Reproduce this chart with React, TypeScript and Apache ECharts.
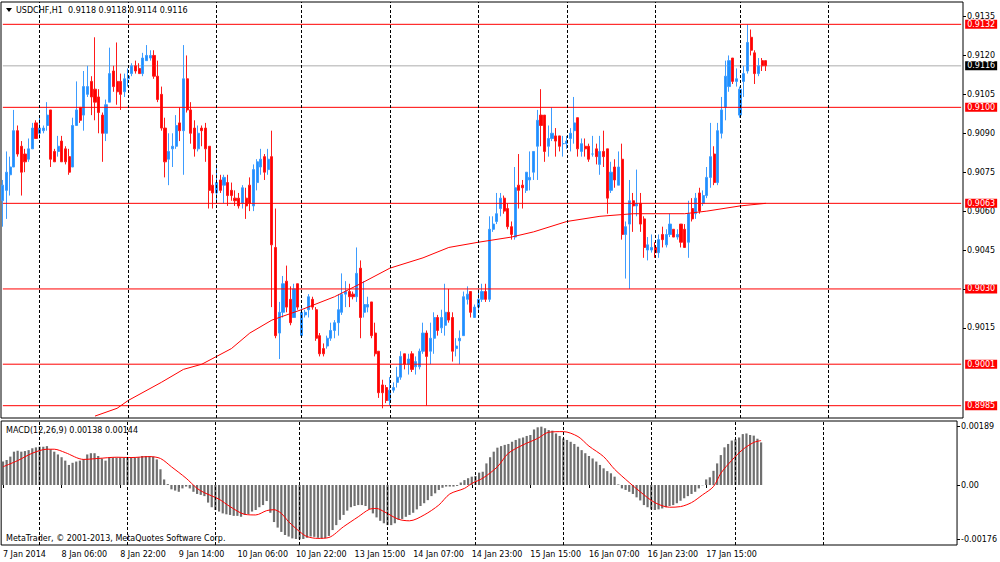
import React, { useEffect, useRef } from "react";
import * as echarts from "echarts";

const symbolName = "USDCHF,H1";
const macdName = "MACD(12,26,9)";
const copyright = "MetaTrader, © 2001-2013, MetaQuotes Software Corp.";

const tickLabels = [
  "7 Jan 2014", "8 Jan 06:00", "8 Jan 22:00", "9 Jan 14:00", "10 Jan 06:00", "10 Jan 22:00",
  "13 Jan 15:00", "14 Jan 07:00", "14 Jan 23:00", "15 Jan 15:00", "16 Jan 07:00", "16 Jan 23:00", "17 Jan 15:00",
];
const BARS_PER_TICK = 16;
const SLOT_COUNT = 261;
const daySeparators = [10, 34, 58, 81, 105, 129, 153, 177, 200, 224];

const opens = [
  0.9064, 0.9068, 0.9074, 0.9077, 0.9091, 0.9085, 0.9082, 0.9080, 0.9084, 0.9094,
  0.9090, 0.9091, 0.9093, 0.9099, 0.9083, 0.9083, 0.9087, 0.9084, 0.9081, 0.9077,
  0.9093, 0.9100, 0.9097, 0.9105, 0.9110, 0.9107, 0.9104, 0.9097, 0.9090, 0.9102,
  0.9114, 0.9110, 0.9110, 0.9106, 0.9111, 0.9113, 0.9116, 0.9115, 0.9113, 0.9118,
  0.9119, 0.9120, 0.9112, 0.9105, 0.9092, 0.9080, 0.9084, 0.9085, 0.9094, 0.9091,
  0.9111, 0.9099, 0.9092, 0.9084, 0.9092, 0.9092, 0.9085, 0.9070, 0.9067, 0.9072,
  0.9070, 0.9071, 0.9068, 0.9065, 0.9065, 0.9063, 0.9065, 0.9070, 0.9062, 0.9071,
  0.9077, 0.9081, 0.9076, 0.9081, 0.9046, 0.9013, 0.9021, 0.9033, 0.9026, 0.9019,
  0.9032, 0.9012, 0.9020, 0.9022, 0.9026, 0.9022, 0.9012, 0.9007, 0.9008, 0.9011,
  0.9014, 0.9017, 0.9021, 0.9028, 0.9029, 0.9028, 0.9027, 0.9038, 0.9021, 0.9023,
  0.9025, 0.9013, 0.9006, 0.8993, 0.8992, 0.8987, 0.8991, 0.8994, 0.8996, 0.9005,
  0.9001, 0.9005, 0.9000, 0.9000, 0.9006, 0.9013, 0.9006, 0.9011, 0.9019, 0.9015,
  0.9016, 0.9021, 0.9019, 0.9007, 0.9010, 0.9012, 0.9026, 0.9029, 0.9019, 0.9023,
  0.9026, 0.9029, 0.9026, 0.9053, 0.9056, 0.9061, 0.9065, 0.9061, 0.9054, 0.9050,
  0.9070, 0.9070, 0.9068, 0.9072, 0.9075, 0.9085, 0.9097, 0.9097, 0.9085, 0.9088,
  0.9089, 0.9089, 0.9086, 0.9086, 0.9088, 0.9091, 0.9096, 0.9083, 0.9085, 0.9085,
  0.9082, 0.9084, 0.9078, 0.9083, 0.9084, 0.9068, 0.9077, 0.9070, 0.9080, 0.9051,
  0.9055, 0.9064, 0.9062, 0.9063, 0.9057, 0.9045, 0.9045, 0.9046, 0.9044, 0.9051,
  0.9047, 0.9051, 0.9053, 0.9050, 0.9055, 0.9053, 0.9048, 0.9061, 0.9059, 0.9067,
  0.9063, 0.9066, 0.9073, 0.9082, 0.9071, 0.9090, 0.9100, 0.9108, 0.9119, 0.9110,
  0.9097, 0.9110, 0.9114, 0.9127, 0.9121, 0.9113, 0.9118, 0.9118,
];

const highs = [
  0.9072, 0.9083, 0.9081, 0.9099, 0.9093, 0.9087, 0.9084, 0.9088, 0.9094, 0.9095,
  0.9097, 0.9093, 0.9102, 0.9099, 0.9084, 0.9089, 0.9089, 0.9085, 0.9084, 0.9096,
  0.9110, 0.9100, 0.9114, 0.9116, 0.9112, 0.9127, 0.9107, 0.9098, 0.9103, 0.9123,
  0.9116, 0.9125, 0.9113, 0.9113, 0.9115, 0.9117, 0.9118, 0.9117, 0.9121, 0.9124,
  0.9122, 0.9122, 0.9118, 0.9108, 0.9096, 0.9090, 0.9090, 0.9097, 0.9100, 0.9124,
  0.9120, 0.9102, 0.9095, 0.9093, 0.9093, 0.9094, 0.9085, 0.9074, 0.9078, 0.9074,
  0.9074, 0.9074, 0.9071, 0.9068, 0.9067, 0.9070, 0.9069, 0.9073, 0.9078, 0.9080,
  0.9084, 0.9082, 0.9084, 0.9091, 0.9061, 0.9025, 0.9035, 0.9039, 0.9031, 0.9032,
  0.9032, 0.9023, 0.9022, 0.9028, 0.9027, 0.9023, 0.9013, 0.9009, 0.9012, 0.9017,
  0.9018, 0.9028, 0.9036, 0.9033, 0.9032, 0.9029, 0.9046, 0.9041, 0.9033, 0.9027,
  0.9025, 0.9017, 0.9006, 0.8995, 0.8993, 0.8996, 0.8994, 0.9000, 0.9006, 0.9005,
  0.9005, 0.9006, 0.9004, 0.9007, 0.9017, 0.9014, 0.9017, 0.9021, 0.9020, 0.9022,
  0.9032, 0.9030, 0.9021, 0.9011, 0.9014, 0.9029, 0.9031, 0.9029, 0.9024, 0.9030,
  0.9032, 0.9032, 0.9058, 0.9058, 0.9067, 0.9067, 0.9066, 0.9063, 0.9056, 0.9077,
  0.9082, 0.9072, 0.9075, 0.9083, 0.9083, 0.9099, 0.9107, 0.9097, 0.9093, 0.9100,
  0.9092, 0.9089, 0.9089, 0.9089, 0.9092, 0.9104, 0.9096, 0.9088, 0.9088, 0.9086,
  0.9089, 0.9086, 0.9089, 0.9091, 0.9084, 0.9079, 0.9080, 0.9083, 0.9086, 0.9056,
  0.9072, 0.9067, 0.9076, 0.9067, 0.9058, 0.9050, 0.9051, 0.9048, 0.9051, 0.9054,
  0.9053, 0.9059, 0.9053, 0.9053, 0.9055, 0.9055, 0.9064, 0.9065, 0.9067, 0.9069,
  0.9068, 0.9077, 0.9094, 0.9085, 0.9094, 0.9104, 0.9118, 0.9120, 0.9119, 0.9115,
  0.9108, 0.9116, 0.9132, 0.9130, 0.9122, 0.9119, 0.9119, 0.9118,
];

const lows = [
  0.9054, 0.9057, 0.9066, 0.9077, 0.9081, 0.9066, 0.9075, 0.9079, 0.9084, 0.9088,
  0.9088, 0.9090, 0.9091, 0.9077, 0.9079, 0.9081, 0.9079, 0.9078, 0.9074, 0.9077,
  0.9093, 0.9094, 0.9091, 0.9104, 0.9097, 0.9095, 0.9090, 0.9079, 0.9087, 0.9102,
  0.9106, 0.9101, 0.9099, 0.9104, 0.9108, 0.9112, 0.9113, 0.9113, 0.9112, 0.9118,
  0.9118, 0.9111, 0.9102, 0.9091, 0.9073, 0.9070, 0.9077, 0.9084, 0.9087, 0.9074,
  0.9098, 0.9086, 0.9081, 0.9083, 0.9085, 0.9079, 0.9061, 0.9061, 0.9063, 0.9067,
  0.9063, 0.9062, 0.9064, 0.9062, 0.9061, 0.9061, 0.9057, 0.9060, 0.9060, 0.9068,
  0.9074, 0.9072, 0.9074, 0.9023, 0.9011, 0.9003, 0.9019, 0.9021, 0.9016, 0.9019,
  0.9022, 0.9012, 0.9019, 0.9019, 0.9022, 0.9010, 0.9004, 0.9004, 0.9007, 0.9010,
  0.9011, 0.9012, 0.9020, 0.9023, 0.9023, 0.9026, 0.9025, 0.9011, 0.9019, 0.9021,
  0.9011, 0.9004, 0.8988, 0.8984, 0.8986, 0.8985, 0.8990, 0.8992, 0.8995, 0.8999,
  0.8997, 0.8998, 0.8997, 0.8999, 0.9005, 0.8985, 0.9001, 0.9005, 0.9012, 0.9013,
  0.9012, 0.9017, 0.9002, 0.9004, 0.9001, 0.9012, 0.9024, 0.9019, 0.9019, 0.9021,
  0.9025, 0.9025, 0.9025, 0.9052, 0.9055, 0.9058, 0.9059, 0.9053, 0.9049, 0.9049,
  0.9061, 0.9061, 0.9067, 0.9068, 0.9072, 0.9072, 0.9085, 0.9079, 0.9081, 0.9087,
  0.9081, 0.9083, 0.9081, 0.9084, 0.9083, 0.9086, 0.9081, 0.9081, 0.9081, 0.9079,
  0.9081, 0.9078, 0.9074, 0.9077, 0.9059, 0.9067, 0.9069, 0.9070, 0.9049, 0.9034,
  0.9030, 0.9052, 0.9058, 0.9052, 0.9042, 0.9041, 0.9044, 0.9042, 0.9042, 0.9046,
  0.9046, 0.9050, 0.9050, 0.9049, 0.9046, 0.9046, 0.9042, 0.9056, 0.9057, 0.9059,
  0.9062, 0.9065, 0.9069, 0.9070, 0.9070, 0.9088, 0.9095, 0.9106, 0.9109, 0.9108,
  0.9096, 0.9104, 0.9113, 0.9120, 0.9109, 0.9112, 0.9114, 0.9114,
];

const closes = [
  0.9070, 0.9075, 0.9077, 0.9091, 0.9082, 0.9075, 0.9079, 0.9084, 0.9092, 0.9088,
  0.9092, 0.9092, 0.9097, 0.9080, 0.9079, 0.9085, 0.9079, 0.9079, 0.9075, 0.9093,
  0.9099, 0.9095, 0.9108, 0.9108, 0.9104, 0.9102, 0.9098, 0.9090, 0.9101, 0.9113,
  0.9108, 0.9106, 0.9105, 0.9111, 0.9112, 0.9116, 0.9114, 0.9113, 0.9119, 0.9120,
  0.9120, 0.9112, 0.9103, 0.9092, 0.9079, 0.9083, 0.9085, 0.9093, 0.9091, 0.9111,
  0.9099, 0.9090, 0.9084, 0.9090, 0.9091, 0.9084, 0.9068, 0.9067, 0.9071, 0.9068,
  0.9073, 0.9066, 0.9066, 0.9064, 0.9062, 0.9069, 0.9062, 0.9063, 0.9076, 0.9079,
  0.9080, 0.9075, 0.9080, 0.9047, 0.9012, 0.9021, 0.9032, 0.9023, 0.9017, 0.9030,
  0.9023, 0.9021, 0.9021, 0.9027, 0.9023, 0.9011, 0.9005, 0.9005, 0.9011, 0.9014,
  0.9017, 0.9022, 0.9028, 0.9029, 0.9027, 0.9027, 0.9036, 0.9019, 0.9024, 0.9024,
  0.9012, 0.9005, 0.8990, 0.8990, 0.8987, 0.8991, 0.8992, 0.8996, 0.9004, 0.9001,
  0.9003, 0.8999, 0.9002, 0.9006, 0.9013, 0.9004, 0.9011, 0.9019, 0.9014, 0.9019,
  0.9021, 0.9018, 0.9006, 0.9008, 0.9011, 0.9027, 0.9028, 0.9021, 0.9023, 0.9026,
  0.9029, 0.9026, 0.9053, 0.9055, 0.9059, 0.9065, 0.9060, 0.9054, 0.9051, 0.9069,
  0.9068, 0.9069, 0.9075, 0.9073, 0.9083, 0.9095, 0.9093, 0.9083, 0.9088, 0.9090,
  0.9087, 0.9085, 0.9086, 0.9087, 0.9090, 0.9094, 0.9084, 0.9086, 0.9084, 0.9080,
  0.9082, 0.9081, 0.9083, 0.9081, 0.9065, 0.9075, 0.9072, 0.9077, 0.9051, 0.9054,
  0.9064, 0.9062, 0.9063, 0.9055, 0.9046, 0.9047, 0.9046, 0.9044, 0.9049, 0.9049,
  0.9051, 0.9055, 0.9050, 0.9051, 0.9048, 0.9046, 0.9059, 0.9057, 0.9065, 0.9060,
  0.9066, 0.9073, 0.9081, 0.9071, 0.9091, 0.9099, 0.9112, 0.9118, 0.9110, 0.9111,
  0.9107, 0.9113, 0.9125, 0.9122, 0.9113, 0.9116, 0.9116, 0.9116,
];

// moving average line, read at points (bar index, price)
const maPoints = [
  [25, 0.8981], [31, 0.8984], [34, 0.8987], [43, 0.8994], [49, 0.8999], [54, 0.9001],
  [58, 0.9004], [62, 0.9007], [67, 0.9013], [73, 0.9018], [81, 0.9022], [90, 0.9027],
  [97, 0.9032], [105, 0.9038], [114, 0.9042], [121, 0.9046], [129, 0.9048], [138, 0.9050],
  [144, 0.9052], [153, 0.9056], [162, 0.9058], [171, 0.9059], [177, 0.9059], [185, 0.9059],
  [191, 0.9060], [200, 0.9062], [207, 0.9063],
];

const levelPrices = [0.9132, 0.9100, 0.9063, 0.9030, 0.9001, 0.8985];
const bidPrice = 0.9116;
const priceTicks = [0.9015, 0.9030, 0.9045, 0.9060, 0.9075, 0.9090, 0.9105, 0.9120, 0.9135];

const macdMain = [
  0.00076, 0.00081, 0.00092, 0.00108, 0.00111, 0.00108, 0.00110, 0.00113, 0.00119, 0.00122,
  0.00124, 0.00124, 0.00126, 0.00116, 0.00108, 0.00099, 0.00090, 0.00079, 0.00065, 0.00072,
  0.00076, 0.00079, 0.00084, 0.00099, 0.00103, 0.00103, 0.00094, 0.00086, 0.00079, 0.00089,
  0.00089, 0.00089, 0.00089, 0.00089, 0.00089, 0.00090, 0.00090, 0.00090, 0.00094, 0.00094,
  0.00094, 0.00092, 0.00083, 0.00051, 0.00018, 0.00003, -0.00014, -0.00018, -0.00022, -0.00011,
  -0.00005, -0.00011, -0.00022, -0.00029, -0.00032, -0.00036, -0.00057, -0.00072, -0.00081, -0.00086,
  -0.00092, -0.00095, -0.00097, -0.00100, -0.00100, -0.00103, -0.00097, -0.00094, -0.00086, -0.00081,
  -0.00072, -0.00065, -0.00052, -0.00090, -0.00120, -0.00138, -0.00152, -0.00162, -0.00167, -0.00173,
  -0.00175, -0.00176, -0.00175, -0.00171, -0.00167, -0.00168, -0.00171, -0.00173, -0.00172, -0.00165,
  -0.00146, -0.00130, -0.00113, -0.00097, -0.00083, -0.00072, -0.00068, -0.00065, -0.00065, -0.00068,
  -0.00079, -0.00092, -0.00105, -0.00116, -0.00124, -0.00130, -0.00130, -0.00124, -0.00113, -0.00110,
  -0.00103, -0.00097, -0.00090, -0.00079, -0.00068, -0.00059, -0.00049, -0.00036, -0.00027, -0.00016,
  -0.00009, -0.00005, -0.00005, -0.00005, -0.00003, 0.00008, 0.00016, 0.00022, 0.00027, 0.00029,
  0.00040, 0.00043, 0.00070, 0.00090, 0.00108, 0.00121, 0.00126, 0.00130, 0.00133, 0.00140,
  0.00146, 0.00151, 0.00154, 0.00159, 0.00162, 0.00180, 0.00187, 0.00189, 0.00184, 0.00178,
  0.00176, 0.00167, 0.00159, 0.00151, 0.00146, 0.00140, 0.00133, 0.00124, 0.00113, 0.00103,
  0.00094, 0.00086, 0.00076, 0.00065, 0.00054, 0.00045, 0.00038, 0.00027, 0.00002, -0.00011,
  -0.00016, -0.00022, -0.00029, -0.00040, -0.00050, -0.00065, -0.00072, -0.00079, -0.00081, -0.00079,
  -0.00076, -0.00072, -0.00068, -0.00065, -0.00059, -0.00051, -0.00043, -0.00036, -0.00029, -0.00022,
  -0.00011, -0.00001, 0.00018, 0.00025, 0.00046, 0.00070, 0.00097, 0.00122, 0.00133, 0.00144,
  0.00148, 0.00154, 0.00165, 0.00167, 0.00162, 0.00160, 0.00150, 0.00138,
];

// signal line, read at points (bar index, value)
const macdSignal = [
  [0, 0.00059], [4, 0.00079], [8, 0.00103], [12, 0.00116], [14, 0.00116], [17, 0.00105],
  [22, 0.00083], [26, 0.00086], [31, 0.00090], [35, 0.00089], [40, 0.00092], [43, 0.00086],
  [46, 0.00059], [50, 0.00022], [53, -0.00011], [55, -0.00025], [59, -0.00046], [62, -0.00070],
  [66, -0.00095], [69, -0.00097], [72, -0.00083], [74, -0.00080], [76, -0.00092], [78, -0.00119],
  [81, -0.00151], [83, -0.00167], [86, -0.00173], [89, -0.00170], [93, -0.00135], [97, -0.00103],
  [100, -0.00079], [102, -0.00076], [104, -0.00086], [108, -0.00111], [111, -0.00116], [115, -0.00097],
  [119, -0.00065], [122, -0.00029], [126, -0.00011], [128, 0.00005], [131, 0.00022], [135, 0.00059],
  [138, 0.00103], [142, 0.00130], [146, 0.00151], [149, 0.00171], [153, 0.00173], [157, 0.00157],
  [160, 0.00126], [164, 0.00092], [167, 0.00051], [171, 0.00008], [174, -0.00022], [178, -0.00057],
  [182, -0.00072], [185, -0.00070], [188, -0.00057], [191, -0.00032], [194, -0.00005], [196, 0.00038],
  [199, 0.00080], [202, 0.00115], [205, 0.00138], [207, 0.00144],
];
const macdTicks = [0.00189, 0, -0.00176];

// axis ranges matched to the reference's scale
const PRICE_MIN = 0.898026;
const PRICE_MAX = 0.91406;
const MACD_MIN = -0.001944;
const MACD_MAX = 0.002074;

const FONT = '"DejaVu Sans", Verdana, sans-serif';
const RED = "#ff0000";

export default function App() {
  const ref = useRef<HTMLDivElement>(null);

  useEffect(() => {
    if (!ref.current) return;
    const chart = echarts.init(ref.current, undefined, { renderer: "svg" });

    const categories = Array.from({ length: SLOT_COUNT }, (_, i) => String(i));
    const candles = opens.map((o, i) => [o, closes[i], lows[i], highs[i]]);
    const last = opens.length - 1;
    const showTick = (index: number) =>
      index % BARS_PER_TICK === 0 && index / BARS_PER_TICK < tickLabels.length;

    const separatorLines = daySeparators.map((i) => ({
      xAxis: i,
      lineStyle: { color: "#000", type: [3, 2], width: 1 },
      label: { show: false },
    }));

    // horizontal price lines drawn as flat line series across the whole axis, label at the right end
    const priceLine = (p: number, color: string, bg: string, width: number, z: number) => ({
      type: "line",
      name: "level " + p.toFixed(4),
      xAxisIndex: 0,
      yAxisIndex: 0,
      data: [[0, p], [SLOT_COUNT - 1, p]],
      z,
      silent: true,
      clip: false,
      symbol: "none",
      showSymbol: false,
      color,
      lineStyle: { color, width, type: "solid" },
      endLabel: {
        show: true,
        formatter: () => p.toFixed(4),
        color: "#fff",
        backgroundColor: bg,
        fontSize: 8,
        fontFamily: FONT,
        padding: [1, 2, 0, 2],
        lineHeight: 8,
        distance: 4,
      },
    });

    const titleText = `${symbolName}  ${opens[last].toFixed(4)} ${highs[last].toFixed(4)} ${lows[last].toFixed(4)} ${closes[last].toFixed(4)}`;
    const sigLast = macdSignal[macdSignal.length - 1][1];
    const macdText = `${macdName} ${macdMain[last].toFixed(5)} ${sigLast.toFixed(5)}`;

    const markBase = { silent: true, symbol: ["none", "none"], animation: false, precision: 5 };

    chart.setOption({
      animation: false,
      backgroundColor: "#fff",
      textStyle: { fontFamily: FONT },
      grid: [
        { left: 1, top: 2, width: 962, height: 416, show: true, borderColor: "#000", borderWidth: 1, backgroundColor: "#fff" },
        { left: 1, top: 421, width: 962, height: 124, show: true, borderColor: "#000", borderWidth: 1, backgroundColor: "#fff" },
      ],
      xAxis: [
        {
          type: "category", gridIndex: 0, data: categories, boundaryGap: true,
          axisLine: { show: false }, axisTick: { show: false }, axisLabel: { show: false }, splitLine: { show: false },
        },
        {
          type: "category", gridIndex: 1, data: categories, boundaryGap: true,
          axisLine: { show: false },
          axisTick: { show: true, interval: showTick, alignWithLabel: true, length: 3, lineStyle: { color: "#000" } },
          axisLabel: {
            show: true, interval: showTick, align: "left", fontSize: 8, fontFamily: FONT, color: "#000", margin: 5,
            formatter: (_v: string, index: number) => tickLabels[Math.round(index / BARS_PER_TICK)] ?? "",
          },
          splitLine: { show: false },
        },
      ],
      yAxis: [
        {
          type: "value", gridIndex: 0, position: "right", min: PRICE_MIN, max: PRICE_MAX,
          axisLine: { show: false }, splitLine: { show: false },
          axisTick: { show: true, length: 3, customValues: priceTicks, lineStyle: { color: "#000" } },
          axisLabel: {
            show: true, customValues: priceTicks, fontSize: 8, fontFamily: FONT, color: "#000", margin: 4,
            formatter: (v: number) => v.toFixed(4),
          },
        },
        {
          type: "value", gridIndex: 1, position: "right", min: MACD_MIN, max: MACD_MAX,
          axisLine: { show: false }, splitLine: { show: false },
          axisTick: { show: true, length: 3, customValues: macdTicks, lineStyle: { color: "#000" } },
          axisLabel: {
            show: true, customValues: macdTicks, fontSize: 8, fontFamily: FONT, color: "#000", margin: 4,
            formatter: (v: number) => (Math.abs(v) < 1e-9 ? "0.00" : v.toFixed(5)),
          },
        },
      ],
      series: [
        {
          type: "line", name: "separators", xAxisIndex: 0, yAxisIndex: 0, data: [], z: 1, color: "#000",
          markLine: { ...markBase, lineStyle: { color: "#000", type: [3, 2], width: 1 }, data: separatorLines },
        },
        priceLine(bidPrice, "#c8c8c8", "#000", 1.5, 1),
        {
          type: "candlestick", name: symbolName, xAxisIndex: 0, yAxisIndex: 0, data: candles,
          barWidth: 2.6, z: 2,
          itemStyle: {
            color: "#1e90ff", color0: RED, borderColor: "#3d9cff", borderColor0: "#ff1a1a",
            borderColorDoji: "#3d9cff", borderWidth: 1,
          },
        },
        {
          type: "line", name: "MA", xAxisIndex: 0, yAxisIndex: 0, data: maPoints, z: 3,
          showSymbol: false, symbol: "none", clip: true, color: RED,
          lineStyle: { color: RED, width: 1 },
        },
        ...levelPrices.map((p) => priceLine(p, RED, RED, 1, 4)),
        {
          type: "bar", name: "MACD", xAxisIndex: 1, yAxisIndex: 1, data: macdMain,
          barWidth: 2.2, itemStyle: { color: "#6f6f6f" }, z: 2,
        },
        {
          type: "line", name: "separators2", xAxisIndex: 1, yAxisIndex: 1, data: [], z: 1, color: "#000",
          markLine: { ...markBase, lineStyle: { color: "#000", type: [3, 2], width: 1 }, data: separatorLines },
        },
        {
          type: "line", name: "Signal", xAxisIndex: 1, yAxisIndex: 1, data: macdSignal,
          showSymbol: false, symbol: "none", smooth: 0.3, z: 3, color: RED,
          lineStyle: { color: RED, width: 1 },
        },
      ],
      graphic: [
        { type: "polygon", shape: { points: [[6, 8], [12, 8], [9, 12]] }, style: { fill: "#000" }, silent: true },
        {
          type: "text", x: 16, y: 10, silent: true,
          style: { text: titleText, fill: "#000", fontSize: 8, fontFamily: FONT, verticalAlign: "middle" },
        },
        {
          type: "text", x: 6, y: 430, silent: true,
          style: { text: macdText, fill: "#000", fontSize: 8, fontFamily: FONT, verticalAlign: "middle" },
        },
        {
          type: "text", x: 6, y: 538, silent: true,
          style: { text: copyright, fill: "#000", fontSize: 8, fontFamily: FONT, verticalAlign: "middle" },
        },
      ],
    });

    return () => chart.dispose();
  }, []);

  return (
    <div
      ref={ref}
      style={{ position: "absolute", left: 0, top: 0, width: 1000, height: 562, background: "#fff" }}
    />
  );
}
